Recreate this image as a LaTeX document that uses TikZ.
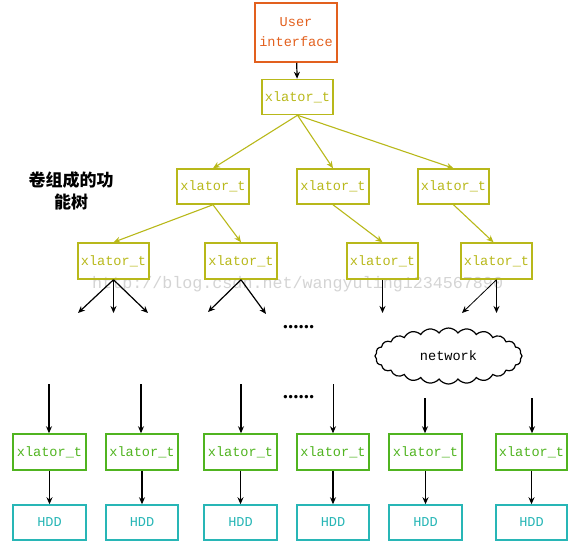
\documentclass[tikz,border=0pt]{standalone}
\usepackage{fontspec}
\setmonofont{Liberation Mono}
\newfontfamily\cjk{Noto Sans CJK SC}
\newfontfamily\dotfont{Liberation Serif}
\usetikzlibrary{shapes.symbols,arrows.meta}
\definecolor{uiorange}{RGB}{226,96,30}
\definecolor{olive}{RGB}{184,184,26}
\definecolor{lgreen}{RGB}{80,180,32}
\definecolor{teal}{RGB}{40,182,182}
\definecolor{wmgray}{RGB}{212,212,212}
\newcommand{\boxfont}[1]{\fontsize{#1}{20}\selectfont\ttfamily}
\tikzset{
  box/.style={draw, line width=1.5pt, inner sep=0pt, font=\boxfont{13.6}, align=center},
  uibox/.style={box, draw=uiorange, text=uiorange, minimum width=82pt, minimum height=59pt},
  tbox/.style={box, draw=olive, text=olive, minimum width=71pt, minimum height=35pt},
  gbox/.style={box, draw=lgreen, text=lgreen, minimum width=72pt, minimum height=36pt},
  hbox/.style={box, draw=teal, text=teal, minimum width=72pt, minimum height=35pt},
  oarr/.style={draw=olive, line width=1.1pt, -{Stealth[length=7pt,width=6pt]}},
  karr/.style={draw=black, line width=1.2pt, -{Stealth[length=7pt,width=6pt]}},
  dots/.style={font=\fontsize{21}{21}\selectfont\dotfont\bfseries, inner sep=0pt, anchor=base},
}
\begin{document}
\begin{tikzpicture}[x=1pt,y=-1pt]
\useasboundingbox (0,0) rectangle (575,549);
% watermark
\node[text=wmgray, font=\boxfont{16.7}, inner sep=0pt, anchor=west] (wm) at (92,284) {http://blog.csdn.net/wangyuling1234567890};
% nodes
\node[uibox] (ui) at (296,32.5) {User\\interface};
\node[tbox] (root) at (297.5,97) {xlator\_t};
\node[tbox, minimum width=72pt] (a) at (213,186.5) {xlator\_t};
\node[tbox, minimum width=72pt] (b) at (333,186.5) {xlator\_t};
\node[tbox] (c) at (453.5,186.5) {xlator\_t};
\node[tbox, minimum height=36pt] (d) at (113.5,261) {xlator\_t};
\node[tbox, minimum height=36pt, minimum width=72pt] (e) at (241,261) {xlator\_t};
\node[tbox, minimum height=36pt] (f) at (382.5,261) {xlator\_t};
\node[tbox, minimum height=36pt] (g) at (496.5,261) {xlator\_t};
\node[font=\fontsize{17}{22}\selectfont\cjk\bfseries, align=center, inner sep=0pt] (label) at (71,191) {卷组成的功\\能树};
% cloud
\node[cloud, draw, line width=1.2pt, cloud puffs=24, cloud puff arc=110, cloud ignores aspect, minimum width=147pt, minimum height=56pt, inner sep=0pt, font=\boxfont{13.6}] (net) at (448.5,356) {network};
% dots
\node[dots] (dots1) at (298.5,328) {......};
\node[dots] (dots2) at (298.5,398) {......};
% bottom rows
\node[gbox, minimum width=73pt] (x1) at (49.5,452) {xlator\_t};
\node[gbox] (x2) at (142,452) {xlator\_t};
\node[gbox, minimum width=73pt] (x3) at (240.5,452) {xlator\_t};
\node[gbox] (x4) at (333,452) {xlator\_t};
\node[gbox, minimum width=73pt] (x5) at (425.5,452) {xlator\_t};
\node[gbox, minimum width=71pt] (x6) at (531.5,452) {xlator\_t};
\node[hbox, minimum width=73pt] (h1) at (49.5,522.5) {HDD};
\node[hbox] (h2) at (142,522.5) {HDD};
\node[hbox, minimum width=73pt] (h3) at (240.5,522.5) {HDD};
\node[hbox] (h4) at (333,522.5) {HDD};
\node[hbox, minimum width=73pt] (h5) at (425.5,522.5) {HDD};
\node[hbox, minimum width=71pt] (h6) at (531.5,522.5) {HDD};
% coordinates
\coordinate (d1) at (78,313);
\coordinate (d2) at (113.5,313);
\coordinate (d3) at (148,313);
\coordinate (e1) at (208,312);
\coordinate (e2) at (266,314);
\coordinate (f1) at (382.5,313);
\coordinate (g1) at (462,313);
\coordinate (g2) at (496.5,313);
\coordinate (s1) at (49,384);
\coordinate (s2) at (141,384);
\coordinate (s3) at (241,384);
\coordinate (s4) at (333,384);
\coordinate (s5) at (425,398);
\coordinate (s6) at (532,398);
% connectors
\draw[karr] (ui) -- (root);
\draw[oarr] (root.south) -- (a.north);
\draw[oarr] (root.south) -- (b.north);
\draw[oarr] (root.south) -- (c.north);
\draw[oarr] (a.south) -- (d.north);
\draw[oarr] (a.south) -- (e.north);
\draw[oarr] (b.south) -- (f.north);
\draw[oarr] (c.south) -- ([xshift=-3pt]g.north);
\draw[karr] (d.south) -- (d1);
\draw[karr, line width=0.8pt] (d.south) -- (d2);
\draw[karr] (d.south) -- (d3);
\draw[karr] (e.south) -- (e1);
\draw[karr] (e.south) -- (e2);
\draw[karr] (f.south) -- (f1);
\draw[karr, line width=0.8pt] (g.south) -- (g1);
\draw[karr] (g.south) -- (g2);
\draw[karr] (s1) -- (x1.north -| s1);
\draw[karr] (s2) -- (x2.north -| s2);
\draw[karr] (s3) -- (x3.north -| s3);
\draw[karr, line width=0.8pt] (s4) -- (x4.north -| s4);
\draw[karr] (s5) -- (x5.north -| s5);
\draw[karr] (s6) -- (x6.north -| s6);
\foreach \i in {1,...,6} {\draw[karr] (x\i) -- (h\i);}
\end{tikzpicture}
\end{document}
